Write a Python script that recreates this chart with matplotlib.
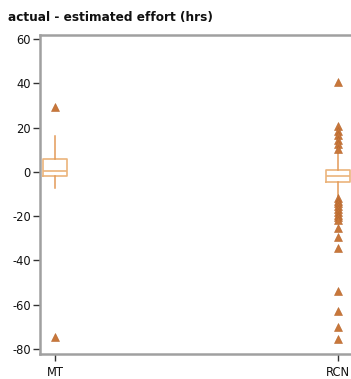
import matplotlib
matplotlib.use("Agg")
import matplotlib.pyplot as plt
import numpy as np

plt.rcParams['font.family'] = ['DejaVu Sans']

categories = ["MT", "RCN"]
# box statistics: q1, median, q3, whisker low, whisker high
q1 = [-1.8, -4.5]
median = [0.3, -1.8]
q3 = [5.9, 0.8]
whislo = [-7.5, -11.5]
whishi = [16.3, 10.0]
outliers_mt = [29.5, -74.5]
outliers_rcn = [40.6, 20.5, 18.5, 16.5, 14.5, 12.5, 10.5,
                -11.8, -13.0, -14.2, -15.5, -16.8, -18.0, -19.3, -20.6, -21.6,
                -25.4, -29.5, -34.2, -54.0, -63.0, -70.3, -75.6]
outliers = [outliers_mt, outliers_rcn]
yticks = [60, 40, 20, 0, -20, -40, -60, -80]

fig = plt.figure(figsize=(3.51, 3.79), dpi=100)
ax = fig.add_axes([40/351, 1-354/379, 1-40/351, (354-35)/379])

stats = []
for i, c in enumerate(categories):
    stats.append(dict(label=c, q1=q1[i], med=median[i], q3=q3[i],
                      whislo=whislo[i], whishi=whishi[i], fliers=outliers[i]))

box_col = "#EBB47C"
wh_col = "#E39A58"
tri_col = "#C8773A"
ax.bxp(stats, positions=[0, 1], widths=0.088, showfliers=True,
       boxprops=dict(color=box_col, linewidth=1.2),
       medianprops=dict(color=box_col, linewidth=1.2),
       whiskerprops=dict(color=wh_col, linewidth=1.1),
       capprops=dict(linewidth=0),
       flierprops=dict(marker='^', markerfacecolor=tri_col, markeredgecolor="#B8682E",
                       markersize=5.3, markeredgewidth=0.4, linestyle='none'))

ax.set_xlim(-0.053, 1.046)
ax.set_ylim(-82.3, 61.8)
ax.set_yticks(yticks)
ax.set_yticklabels([str(v) for v in yticks])
ax.set_xticks([0, 1])
ax.set_xticklabels(categories)

for s in ["left", "bottom", "top"]:
    ax.spines[s].set_color("#a0a0a0")
    ax.spines[s].set_linewidth(1.8)
ax.spines["right"].set_visible(False)
ax.tick_params(axis='both', length=5, width=1, color="#333333", labelsize=8.3, pad=1.5,
               labelcolor="#111111")
ax.tick_params(axis='x', pad=4)

fig.text(8/351, 1-18/379, "actual - estimated effort (hrs)", fontsize=8.7,
         fontweight='bold', va='center', ha='left', color="#111111")

fig.savefig("out.png", dpi=100)
